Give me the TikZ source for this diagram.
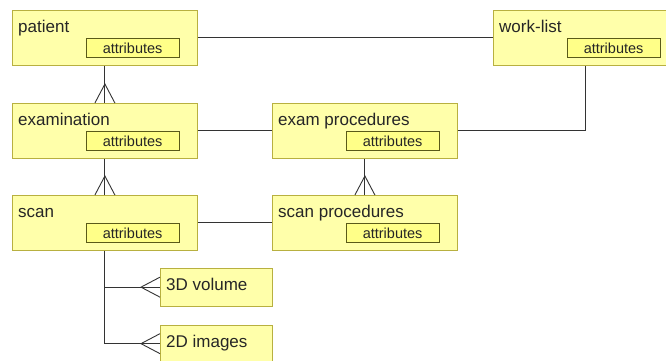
\documentclass[tikz,border=0pt]{standalone}
\usepackage{fontspec}
\setmainfont{Liberation Sans}
\usetikzlibrary{positioning,calc}
\definecolor{boxfill}{HTML}{FFFFAA}
\definecolor{boxline}{HTML}{B8B040}
\definecolor{attrfill}{HTML}{FFFF88}
\definecolor{attrline}{HTML}{5A5A18}
\definecolor{linkcol}{HTML}{333333}
\tikzset{
  entity/.style={draw=boxline, fill=boxfill, line width=0.8pt, anchor=north west,
    minimum width=185pt, minimum height=55pt, inner sep=0pt},
  leaf/.style={entity, minimum width=112pt, minimum height=37.5pt},
  title/.style={anchor=base west, inner sep=0pt, font=\fontsize{17}{20}\selectfont, text=black!85},
  attr/.style={draw=attrline, fill=attrfill, line width=0.7pt, anchor=north west,
    minimum width=92.5pt, minimum height=19pt, inner sep=0pt,
    font=\fontsize{14.5}{16}\selectfont, text=black!85},
  link/.style={draw=linkcol, line width=0.9pt}
}
\begin{document}
\begin{tikzpicture}[x=1pt, y=-1pt]
  \clip (0,0) rectangle (666,360);
  \fill[white] (0,0) rectangle (666,360);

  % entities
  \node[entity] (patient) at (12,10) {};
  \node[entity] (examination) at (12,103) {};
  \node[entity] (scan) at (12,195) {};
  \node[entity] (examproc) at (272,103) {};
  \node[entity] (scanproc) at (272,195) {};
  \node[entity] (worklist) at (493,10) {};
  \node[leaf] (volume) at (160,268) {};
  \node[leaf] (images) at (160,324.5) {};

  % titles and attribute boxes
  \foreach \n/\t in {patient/patient, examination/examination, scan/scan,
      examproc/exam procedures, scanproc/scan procedures, worklist/work-list} {
    \node[title] (\n-title) at ($(\n.north west)+(6,22.5)$) {\t};
    \node[attr] (\n-attr) at ($(\n.north west)+(74,28)$) {attributes};
  }
  \node[title] (volume-title) at ($(volume.north west)+(6,22.5)$) {3D volume};
  \node[title] (images-title) at ($(images.north west)+(6,22.5)$) {2D images};

  % relations
  \draw[link] (patient) -- (worklist);
  \draw[link] (examination) -- (examproc);
  \draw[link] (scan) -- (scanproc);
  \draw[link] (examproc.east) -| (worklist.south);
  \draw[link] (patient) -- (examination);
  \draw[link] (examination) -- (scan);
  \draw[link] (examproc) -- (scanproc);
  \draw[link] (scan.south) |- (volume.west);
  \draw[link] (scan.south) |- (images.west);

  % crow's feet
  \draw[link] (examination.north) ++(-10,0) -- ++(10,-19) -- ++(10,19);
  \draw[link] (scan.north) ++(-10,0) -- ++(10,-19) -- ++(10,19);
  \draw[link] (scanproc.north) ++(-10,0) -- ++(10,-19) -- ++(10,19);
  \draw[link] (volume.west) ++(0,-10) -- ++(-19,10) -- ++(19,10);
  \draw[link] (images.west) ++(0,-10) -- ++(-19,10) -- ++(19,10);
\end{tikzpicture}
\end{document}
